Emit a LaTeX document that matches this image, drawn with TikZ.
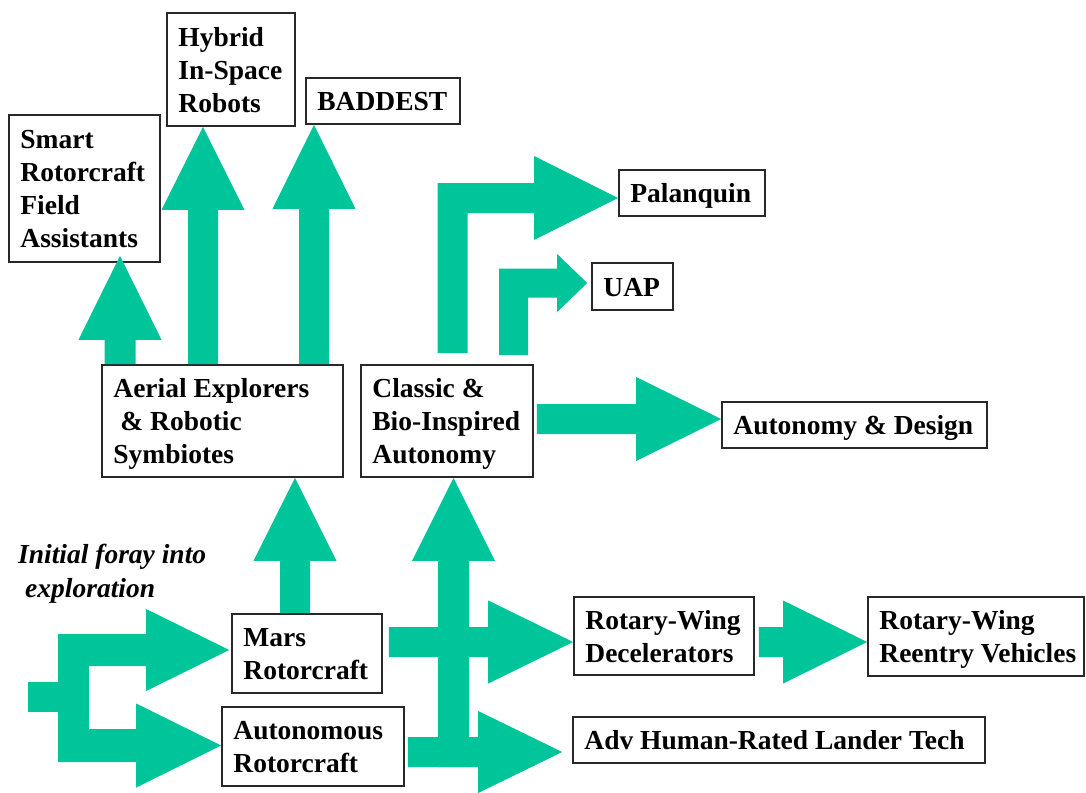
\documentclass[tikz,border=0pt]{standalone}
\usepackage{fontspec}
\setmainfont{Liberation Serif}
\usetikzlibrary{calc}
\definecolor{arrgreen}{RGB}{0,196,154}
\definecolor{boxline}{RGB}{40,40,40}
\newcommand\stru{\rule[-7pt]{0pt}{33pt}}
\tikzset{
 box/.style={draw=boxline, line width=1.6pt, inner sep=0pt},
 txt/.style={inner sep=0pt, align=left, font=\fontsize{27.5}{33}\selectfont\bfseries},
 arr/.style={fill=arrgreen},
}
\newcommand\bx[6]{%
 \pgfmathsetmacro\bxw{#4-#2}\pgfmathsetmacro\bxh{#5-#3}%
 \node[box, minimum width=\bxw pt, minimum height=\bxh pt] (#1) at ({(#2+#4)/2},{(#3+#5)/2}) {};
 \node[txt, anchor=west] (#1-t) at ([xshift=12pt]#1.west) {\stru#6\stru};}
\newcommand\uparr[5]{\fill[arr] ($(#1)+(-#3,0)$) -- ($(#2)+(-#3,#5)$) -- ($(#2)+(-#4,#5)$) -- (#2) -- ($(#2)+(#4,#5)$) -- ($(#2)+(#3,#5)$) -- ($(#1)+(#3,0)$) -- cycle;}
\newcommand\rtarr[5]{\fill[arr] ($(#1)+(0,-#3)$) -- ($(#2)+(-#5,-#3)$) -- ($(#2)+(-#5,-#4)$) -- (#2) -- ($(#2)+(-#5,#4)$) -- ($(#2)+(-#5,#3)$) -- ($(#1)+(0,#3)$) -- cycle;}
\newcommand\lftarr[5]{\fill[arr] ($(#1)+(-#3,0)$) -- ($(#1 |- #2)+(-#3,-#3)$) -- ($(#2)+(-#5,-#3)$) -- ($(#2)+(-#5,-#4)$) -- (#2) -- ($(#2)+(-#5,#4)$) -- ($(#2)+(-#5,#3)$) -- ($(#1 |- #2)+(#3,#3)$) -- ($(#1)+(#3,0)$) -- cycle;}
\begin{document}
\begin{tikzpicture}[x=1pt,y=-1pt]
\fill[white] (0,0) rectangle (1086,792);
\useasboundingbox (0,0) rectangle (1086,792);
% boxes
\bx{smart}{9}{115}{160}{262}{Smart\\Rotorcraft\\Field\\Assistants}
\bx{hybrid}{167}{13}{295}{126}{Hybrid\\In-Space\\Robots}
\bx{baddest}{306}{78}{460}{124}{BADDEST}
\bx{palanquin}{619}{170}{765}{216}{Palanquin}
\bx{uap}{592}{263}{673}{310}{UAP}
\bx{aerial}{102}{365}{343}{477}{Aerial Explorers\\\hspace*{7pt}\& Robotic\\Symbiotes}
\bx{classic}{361}{365}{533}{477}{Classic \&\\Bio-Inspired\\Autonomy}
\bx{autodesign}{722}{402}{987}{448}{Autonomy \& Design}
\bx{mars}{232}{614}{382}{693}{Mars\\Rotorcraft}
\bx{autorot}{222}{707}{404}{786}{Autonomous\\Rotorcraft}
\bx{rwd}{574}{597}{754}{675}{Rotary-Wing\\Decelerators}
\bx{reentry}{868}{597}{1084}{676}{Rotary-Wing\\Reentry Vehicles}
\bx{adv}{573}{717}{985}{763}{Adv Human-Rated Lander Tech}
% italic label
\node[txt, font=\fontsize{27.5}{32}\selectfont\bfseries\itshape, anchor=north west] (initial) at (18,537) {\stru Initial foray into\\\hspace*{7pt}exploration\stru};
% arrows
\coordinate (a1s) at (120,0 |- aerial.north);
\coordinate (a1e) at ($(120,0 |- smart.south)+(0,-7)$);
\uparr{a1s}{a1e}{15.5}{41.5}{84}
\coordinate (a2s) at (203,0 |- aerial.north);
\coordinate (a2e) at (203,0 |- hybrid.south);
\uparr{a2s}{a2e}{15}{41.5}{83}
\coordinate (a3s) at (314,0 |- aerial.north);
\coordinate (a3e) at (314,0 |- baddest.south);
\uparr{a3s}{a3e}{15}{41.5}{84}
\coordinate (a4s) at ($(452.5,0 |- classic.north)+(0,-11)$);
\coordinate (a4e) at (palanquin.west |- 0,198);
\lftarr{a4s}{a4e}{15}{42}{84}
\coordinate (a5s) at ($(513.5,0 |- classic.north)+(0,-9)$);
\coordinate (a5e) at ($(uap.west |- 0,283)+(-4,0)$);
\lftarr{a5s}{a5e}{14.5}{29}{30}
\coordinate (a6s) at ($(classic.east |- 0,419)+(3,0)$);
\coordinate (a6e) at (autodesign.west |- 0,419);
\rtarr{a6s}{a6e}{15}{42}{85}
\coordinate (a7s) at (295,0 |- mars.north);
\coordinate (a7e) at (295,0 |- aerial.south);
\uparr{a7s}{a7e}{15}{41.5}{83}
\coordinate (a8s) at ($(autorot.east |- 0,752)+(3,0)$);
\coordinate (a8e) at ($(adv.west |- 0,752)+(-10,0)$);
\rtarr{a8s}{a8e}{15}{41}{84}
\coordinate (a9s) at ($(453.5,0 |- a8s)+(0,15)$);
\coordinate (a9e) at (453.5,0 |- classic.south);
\uparr{a9s}{a9e}{15.5}{41.5}{83}
\coordinate (a10s) at ($(mars.east |- 0,642)+(6,0)$);
\coordinate (a10e) at (rwd.west |- 0,642);
\rtarr{a10s}{a10e}{15}{41.5}{85}
\coordinate (a11s) at ($(rwd.east |- 0,642)+(4,0)$);
\coordinate (a11e) at (reentry.west |- 0,642);
\rtarr{a11s}{a11e}{15}{41.5}{84}
% fork
\coordinate (origin) at (28,697);
\fill[arr] ($(origin)+(0,-15)$) rectangle (58,712);
\fill[arr] (58,634) rectangle (89,762);
\coordinate (f1s) at (58,650);
\coordinate (f1e) at ($(mars.west |- 0,650)+(-2,0)$);
\rtarr{f1s}{f1e}{16}{41}{83}
\coordinate (f2s) at (58,745.5);
\coordinate (f2e) at (autorot.west |- 0,745.5);
\rtarr{f2s}{f2e}{16.5}{42}{85}
\end{tikzpicture}
\end{document}
